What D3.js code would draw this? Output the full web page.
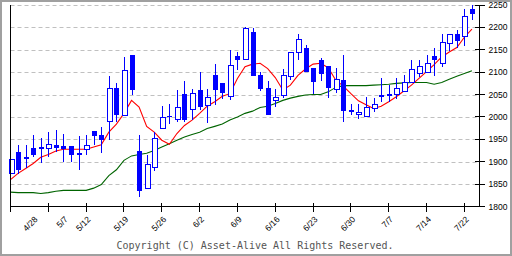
<!DOCTYPE html>
<html>
  <head>
    <script src="https://cdn.jsdelivr.net/npm/d3@7"></script>
    <style>
      body { margin: 0; background: #fff; }
      text { font-family: "Liberation Sans", Arial, sans-serif; }
      text.copy { font-family: "DejaVu Sans Mono", monospace; }
    </style>
  </head>
  <body>
    <div id="chart"></div>
    <script>
// daily candles, 62 sessions
var open = [1873,1921,1910,1930,1932,1929,1938,1934,1934,1919,
  1928,1968,1959,1989,2064,2004,2138,1925,1840,1888,
  1974,2003,1994,2051,2016,2060,2025,2093,2075,2045,
  2136,2128,2190,2093,2064,2037,2048,2091,2144,2154,
  2109,2128,2113,2061,2082,2015,2005,2000,2018,2049,
  2051,2051,2057,2078,2097,2100,2135,2119,2163,2185,
  2179,2240];
var close = [1905,1881,1906,1915,1932,1938,1931,1928,1915,1915,
  1936,1957,1949,2064,2004,2104,2061,1834,1893,1952,
  1999,2003,2021,1994,2052,2022,2043,2061,2054,2115,
  2128,2198,2092,2063,2004,2043,2093,2144,2173,2101,
  2079,2097,2064,2084,2014,2015,2010,2021,2027,2049,
  2051,2064,2078,2106,2113,2119,2127,2166,2185,2170,
  2225,2230];
var high = [1906,1937,1937,1959,1954,1966,1970,1963,1935,1957,
  1959,1968,1977,2091,2076,2134,2138,1959,1914,1966,
  2024,2028,2060,2080,2063,2101,2063,2118,2075,2149,
  2145,2201,2198,2101,2080,2063,2107,2144,2185,2160,
  2109,2132,2113,2109,2138,2030,2030,2045,2043,2088,
  2071,2088,2093,2127,2128,2138,2153,2185,2186,2194,
  2240,2250];
var low = [1872,1873,1885,1910,1897,1910,1922,1899,1899,1881,
  1916,1937,1919,1948,1989,2002,2050,1822,1840,1879,
  1974,1985,1989,1989,1994,2016,1986,2026,2041,2037,
  2104,2128,2092,2058,2004,2022,2043,2082,2128,2101,
  2051,2081,2042,2054,1989,2004,1996,2000,2011,2033,
  2033,2039,2057,2078,2089,2100,2092,2112,2148,2153,
  2159,2216];

// moving averages
var maShort = [1860,1874,1885,1896,1910,1916,1924,1928,1928,1928,
  1928,1933,1938,1966,1984,2008,2037,2022,1979,1966,
  1948,1939,1963,1981,1993,2008,2024,2034,2046,2052,
  2086,2112,2118,2120,2108,2088,2060,2071,2093,2107,
  2118,2120,2110,2082,2069,2052,2036,2027,2019,2024,
  2034,2045,2058,2071,2086,2101,2117,2134,2145,2155,
  2178,2196];
var maLong = [1832,1831,1831,1831,1829,1831,1834,1836,1836,1836,
  1836,1841,1849,1869,1882,1903,1913,1916,1919,1925,
  1933,1940,1948,1955,1961,1966,1974,1979,1984,1993,
  2000,2008,2013,2021,2024,2030,2037,2042,2046,2049,
  2050,2050,2056,2066,2070,2070,2070,2070,2071,2072,
  2073,2075,2076,2077,2077,2077,2073,2077,2084,2091,
  2097,2103];

var dateLabels = ["4/28","5/7","5/12","5/19","5/26","6/2","6/9","6/16","6/23","6/30","7/7","7/14","7/22"];
var dateIdx = [3,7,10,15,20,25,30,35,40,45,50,55,60];
var tickIdx = [0,5,10,15,20,25,30,35,40,45,50,55,60];
var yTicks = [1800,1850,1900,1950,2000,2050,2100,2150,2200,2250];

var width = 512, height = 256;
var blue = "#0000ff";

var x = d3.scaleLinear().domain([0, 62]).range([10.5, 479.5]);
var y = d3.scaleLinear().domain([1800, 2250]).range([206.5, 5]);

var svg = d3.select("#chart").append("svg")
  .attr("width", width)
  .attr("height", height);

// outer frame
svg.append("rect")
  .attr("x", 1).attr("y", 1)
  .attr("width", width - 2).attr("height", height - 2)
  .attr("fill", "#fff")
  .attr("stroke", "#a0a0a0")
  .attr("stroke-width", 2);

// dashed grid
svg.append("g")
  .selectAll("line")
  .data(yTicks.slice(1))
  .join("line")
  .attr("x1", x(0)).attr("x2", x(62))
  .attr("y1", d => Math.round(y(d)) + 0.5)
  .attr("y2", d => Math.round(y(d)) + 0.5)
  .attr("stroke", "#c0c0c0")
  .attr("stroke-dasharray", "4,3");

// moving averages
var line = d3.line()
  .x((d, i) => x(i))
  .y(d => y(d));

svg.append("path")
  .attr("d", line(maLong))
  .attr("fill", "none")
  .attr("stroke", "#006400")
  .attr("stroke-width", 1.1);

svg.append("path")
  .attr("d", line(maShort))
  .attr("fill", "none")
  .attr("stroke", "#ff0000")
  .attr("stroke-width", 1.1);

// candles
var candles = open.map((o, i) => ({i: i, o: o, c: close[i], h: high[i], l: low[i]}));

var g = svg.append("g").attr("shape-rendering", "crispEdges");

g.selectAll(".wick")
  .data(candles)
  .join("line")
  .attr("class", "wick")
  .attr("x1", d => Math.round(x(d.i)) + 0.5)
  .attr("x2", d => Math.round(x(d.i)) + 0.5)
  .attr("y1", d => y(d.h))
  .attr("y2", d => y(d.l))
  .attr("stroke", blue);

g.selectAll(".body")
  .data(candles)
  .join("rect")
  .attr("class", "body")
  .attr("x", d => Math.round(x(d.i)) - 2)
  .attr("width", 5)
  .attr("y", d => Math.min(y(d.o), y(d.c)))
  .attr("height", d => Math.max(1.5, Math.abs(y(d.o) - y(d.c))))
  .attr("fill", d => d.c > d.o ? "#fff" : blue)
  .attr("stroke", d => d.c > d.o ? blue : "none");

// axes
var axis = svg.append("g").attr("stroke", "#000").attr("shape-rendering", "crispEdges");
axis.append("line").attr("x1", x(0)).attr("x2", x(0)).attr("y1", y(2250)).attr("y2", y(1800));
axis.append("line").attr("x1", x(62)).attr("x2", x(62)).attr("y1", y(2250)).attr("y2", y(1800));
axis.append("line").attr("x1", x(0)).attr("x2", x(62)).attr("y1", y(1800)).attr("y2", y(1800));

axis.selectAll(".xt")
  .data(tickIdx)
  .join("line")
  .attr("class", "xt")
  .attr("x1", d => x(d)).attr("x2", d => x(d))
  .attr("y1", y(1800) - 4).attr("y2", y(1800) + 5);

axis.selectAll(".yt")
  .data(yTicks)
  .join("line")
  .attr("class", "yt")
  .attr("x1", x(62) - 5).attr("x2", x(62) + 5)
  .attr("y1", d => y(d)).attr("y2", d => y(d));

svg.selectAll(".yl")
  .data(yTicks)
  .join("text")
  .attr("class", "yl")
  .attr("x", x(62) + 9)
  .attr("y", d => y(d) + 3)
  .attr("font-size", 8.5)
  .attr("fill", "#000")
  .text(d => d);

svg.selectAll(".xl")
  .data(dateLabels)
  .join("text")
  .attr("class", "xl")
  .attr("text-anchor", "end")
  .attr("transform", (d, i) => "translate(" + (x(dateIdx[i]) + 5) + "," + 220 + ") rotate(-45)")
  .attr("font-size", 8.5)
  .attr("fill", "#000")
  .text(d => d);

svg.append("text")
  .attr("class", "copy")
  .attr("x", 255)
  .attr("y", 249)
  .attr("text-anchor", "middle")
  .attr("font-size", 10)
  .attr("fill", "#555")
  .text("Copyright (C) Asset-Alive All Rights Reserved.");
    </script>
  </body>
</html>
